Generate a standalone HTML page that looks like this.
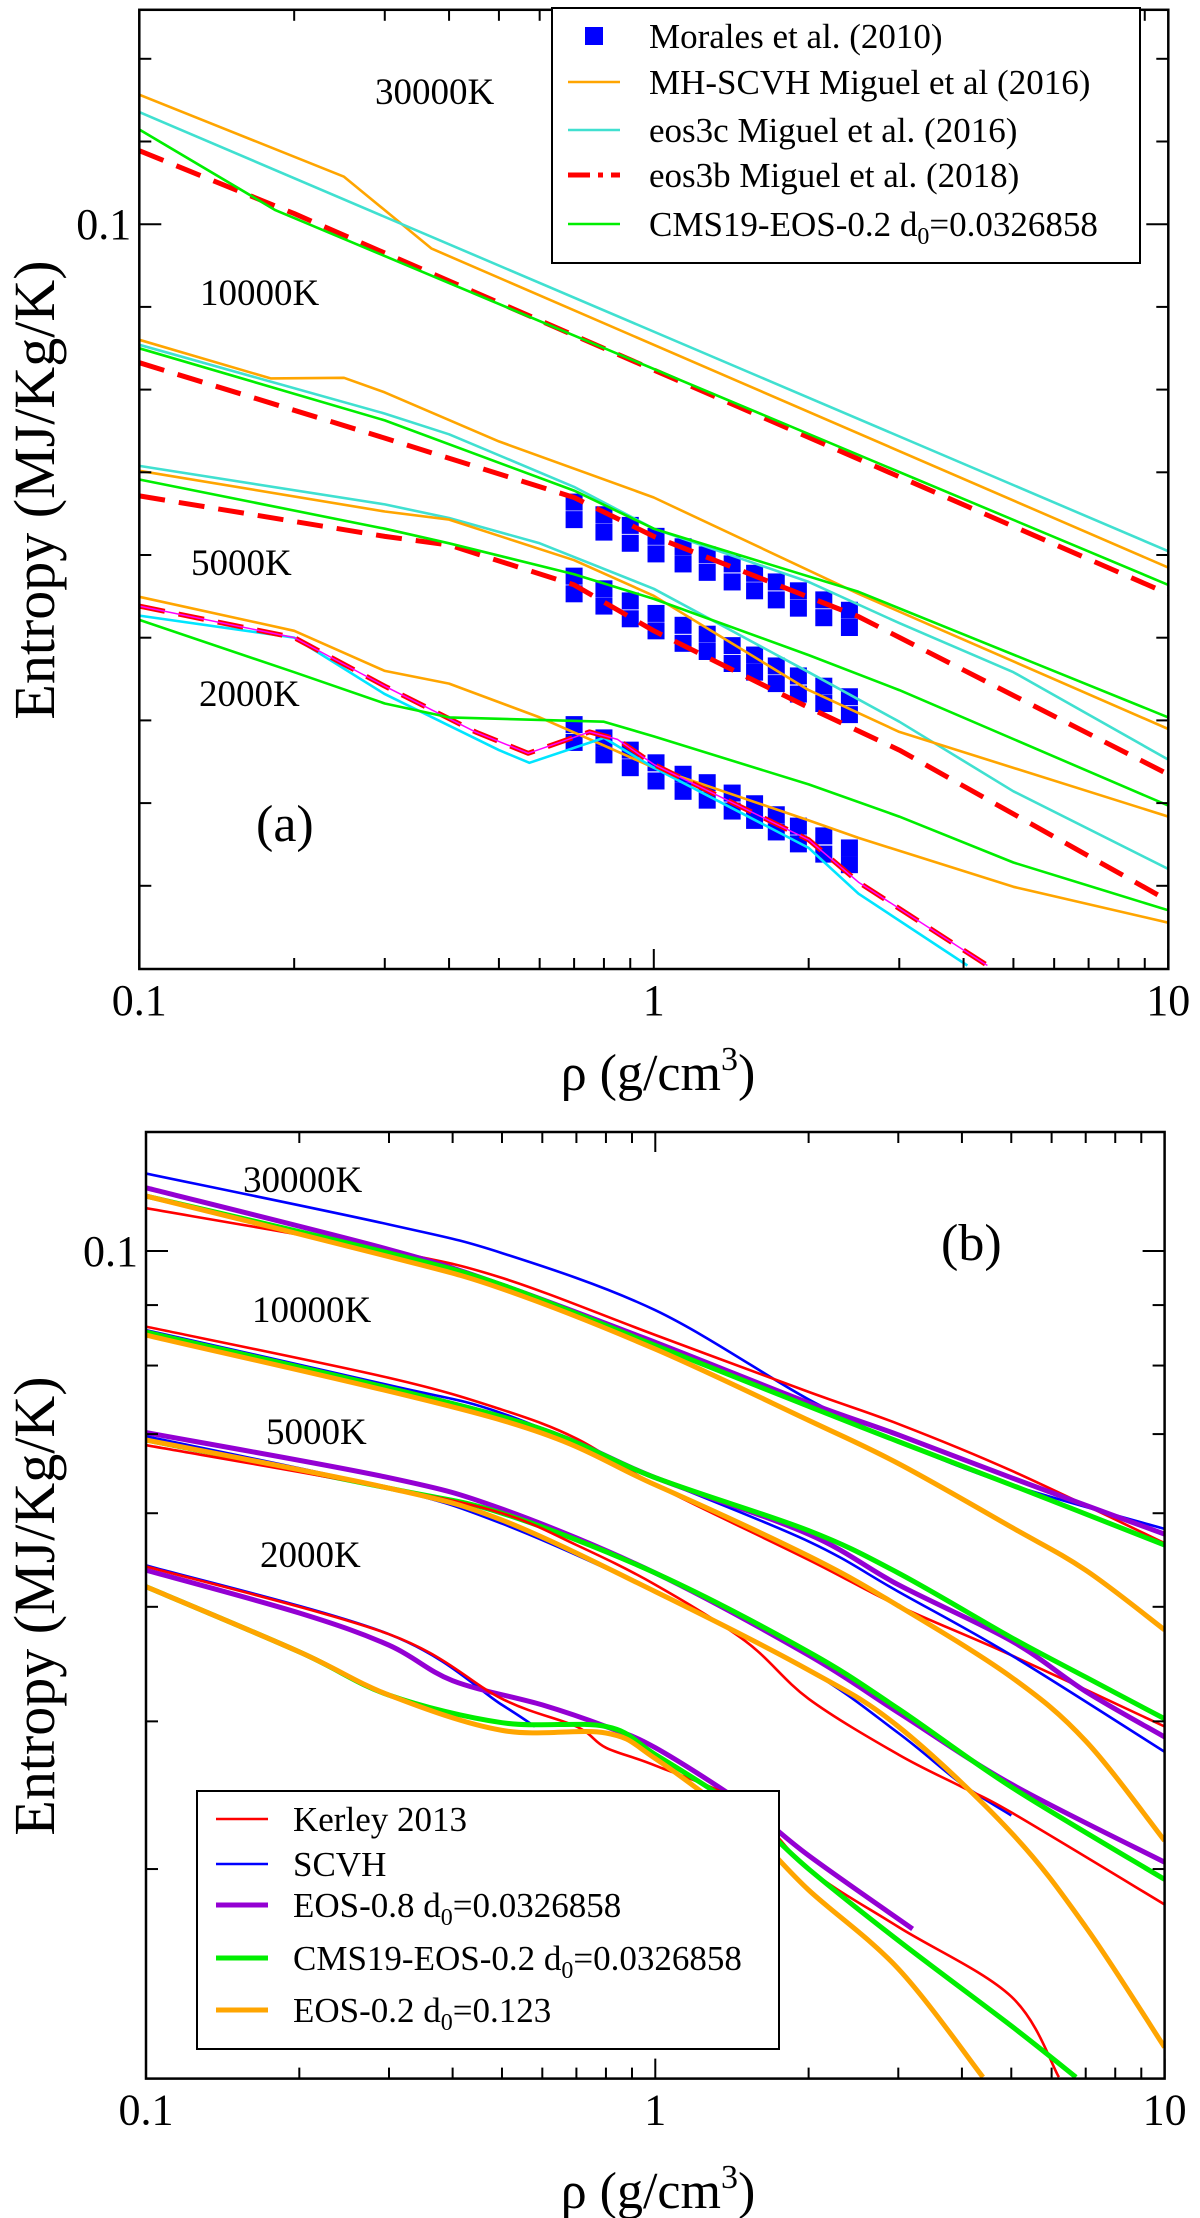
<!DOCTYPE html>
<html><head><meta charset="utf-8"><style>
html,body{margin:0;padding:0;background:#fff}
svg{display:block;font-family:"Liberation Serif",serif}
</style></head><body>
<svg id="fig" xmlns="http://www.w3.org/2000/svg" width="1200" height="2218" viewBox="0 0 1200 2218">
<defs>
<clipPath id="clipA"><rect x="139.3" y="9.8" width="1029" height="959.2"/></clipPath>
<clipPath id="clipB"><rect x="146" y="1132" width="1018.6" height="946.6"/></clipPath>
</defs>
<rect width="1200" height="2218" fill="#fff"/>
<g id="gA" clip-path="url(#clipA)"></g>
<g id="gB" clip-path="url(#clipB)"></g>
<g id="axes"></g>
<g id="texts" fill="#000">
<text x="375" y="104" font-size="37">30000K</text>
<text x="200" y="305" font-size="37">10000K</text>
<text x="191" y="575" font-size="37">5000K</text>
<text x="199" y="706" font-size="37">2000K</text>
<text x="256" y="841" font-size="52">(a)</text>
<text x="243" y="1192" font-size="37">30000K</text>
<text x="252" y="1322" font-size="37">10000K</text>
<text x="266" y="1444" font-size="37">5000K</text>
<text x="260" y="1567" font-size="37">2000K</text>
<text x="941" y="1260" font-size="52">(b)</text>
<text x="658" y="1090" font-size="52" text-anchor="middle">ρ (g/cm<tspan dy="-20" font-size="34">3</tspan><tspan dy="20">)</tspan></text>
<text x="658" y="2208" font-size="52" text-anchor="middle">ρ (g/cm<tspan dy="-20" font-size="34">3</tspan><tspan dy="20">)</tspan></text>
<text transform="translate(54,490) rotate(-90)" font-size="58" text-anchor="middle">Entropy (MJ/Kg/K)</text>
<text transform="translate(54,1606) rotate(-90)" font-size="58" text-anchor="middle">Entropy (MJ/Kg/K)</text>
</g>
<g id="legA"></g>
<g id="legB"></g>
</svg>
<script>
// ===== Panel (a) data =====
const a30_orange_rho=[0.1,0.25,0.37,10];
const a30_orange_S=[0.1436,0.1142,0.0934,0.0383];
const a30_cyan_rho=[0.1,10];
const a30_cyan_S=[0.1368,0.0401];
const a30_green_rho=[0.1,0.184,10];
const a30_green_S=[0.1303,0.1040,0.0365];
const a30_red_rho=[0.1,0.2,10];
const a30_red_S=[0.1228,0.1030,0.0356];
const a10_orange_rho=[0.1,0.18,0.25,0.3,0.5,1,2.5,10];
const a10_orange_S=[0.0724,0.0650,0.0651,0.0625,0.0545,0.0466,0.0356,0.0244];
const a10_cyan_rho=[0.1,0.3,0.4,0.7,1,2,3,5,10];
const a10_cyan_S=[0.0714,0.0589,0.0556,0.0480,0.0427,0.0368,0.0328,0.0286,0.0224];
const a10_green_rho=[0.1,0.3,0.7,1,2.5,10];
const a10_green_S=[0.0707,0.0578,0.0475,0.0427,0.0358,0.0252];
const a10_red_rho=[0.1,0.3,0.7,1,2.5,10];
const a10_red_S=[0.0679,0.0550,0.0466,0.0418,0.0334,0.0215];
const a5_cyan_rho=[0.1,0.3,0.4,0.6,1,2,3,5,10];
const a5_cyan_S=[0.0509,0.0457,0.0440,0.0410,0.0361,0.0286,0.0249,0.0205,0.0165];
const a5_orange_rho=[0.1,0.3,0.4,0.7,1,2,3,10];
const a5_orange_S=[0.0502,0.0448,0.0438,0.0391,0.0354,0.0272,0.0242,0.0191];
const a5_green_rho=[0.1,0.3,0.4,0.7,1,2,3,10];
const a5_green_S=[0.0490,0.0427,0.0410,0.0376,0.0351,0.0300,0.0272,0.0197];
const a5_red_rho=[0.1,0.3,0.4,0.7,1,2,3,10];
const a5_red_S=[0.0468,0.0418,0.0408,0.0365,0.0321,0.0259,0.0230,0.0151];
const a2_orange_rho=[0.1,0.2,0.3,0.4,0.6,0.8,1,2,2.5,5,10];
const a2_orange_S=[0.0353,0.0321,0.0287,0.0277,0.0252,0.0233,0.0219,0.0189,0.0180,0.0157,0.0142];
const a2_cyan_rho=[0.1,0.2,0.3,0.5,0.573,0.8,1,2,2.5,4.07];
const a2_cyan_S=[0.0335,0.0315,0.0269,0.0230,0.0222,0.0238,0.0219,0.0175,0.0154,0.0126];
const a2_red_rho=[0.1,0.2,0.3,0.45,0.57,0.75,0.85,1,2,2.5,4.45];
const a2_red_S=[0.0344,0.0315,0.0275,0.0242,0.0228,0.0242,0.0237,0.0221,0.0179,0.0159,0.0126];
const a2_green_rho=[0.1,0.2,0.3,0.4,0.8,1,2,3,5,10];
const a2_green_S=[0.0331,0.0286,0.0262,0.0252,0.0249,0.0239,0.0209,0.0191,0.0168,0.0147];
const morales_rho=[0.7,0.8,0.9,1.01,1.14,1.27,1.42,1.57,1.73,1.91,2.14,2.4];
const morales10_S=[0.0460,0.0444,0.0431,0.0418,0.0406,0.0397,0.0387,0.0377,0.0368,0.0359,0.0350,0.0340];
const morales10_Slow=[0.0438,0.0423,0.0410,0.0398,0.0387,0.0378,0.0368,0.0359,0.0350,0.0342,0.0333,0.0324];
const morales5_S=[0.0374,0.0361,0.0349,0.0337,0.0326,0.0318,0.0308,0.0300,0.0291,0.0283,0.0275,0.0267];
const morales5_Slow=[0.0356,0.0344,0.0332,0.0321,0.0310,0.0303,0.0293,0.0286,0.0277,0.0269,0.0262,0.0254];
const morales2_S=[0.0247,0.0238,0.0230,0.0222,0.0215,0.0210,0.0204,0.0198,0.0192,0.0186,0.0181,0.0175];
const morales2_Slow=[0.0235,0.0227,0.0219,0.0211,0.0205,0.0200,0.0194,0.0189,0.0183,0.0177,0.0172,0.0167];

// ===== Panel (b) data =====
const b30_blue_rho=[0.1,0.3,0.5,1,2,3,5,10];
const b30_blue_S=[0.1163,0.1053,0.0996,0.0891,0.0749,0.0690,0.0634,0.0582];
const b30_red_rho=[0.1,0.3,0.5,1,2,3,5,10];
const b30_red_S=[0.1087,0.1000,0.0949,0.0849,0.0760,0.0714,0.0652,0.0566];
const b30_purple_rho=[0.1,0.3,0.5,1,2,3,5,10];
const b30_purple_S=[0.1131,0.1003,0.0936,0.0837,0.0744,0.0699,0.0643,0.0576];
const b30_green_rho=[0.1,0.3,0.5,1,2,3,5,10];
const b30_green_S=[0.1113,0.0996,0.0936,0.0832,0.0739,0.0690,0.0634,0.0564];
const b30_orange_rho=[0.1,0.3,0.5,1,2,3,5,7,10];
const b30_orange_S=[0.1113,0.0989,0.0929,0.0826,0.0719,0.0661,0.0584,0.0537,0.0478];
const b10_red_rho=[0.1,0.3,0.5,0.7,1,2,3,5,10];
const b10_red_S=[0.0863,0.0781,0.0734,0.0694,0.0634,0.0548,0.0501,0.0455,0.0396];
const b10_blue_rho=[0.1,0.3,0.5,1,2,3,5,10];
const b10_blue_S=[0.0857,0.0770,0.0729,0.0643,0.0568,0.0515,0.0455,0.0377];
const b10_purple_rho=[0.1,0.5,1,2,3,5,7,10];
const b10_purple_S=[0.0854,0.0724,0.0643,0.0576,0.0522,0.0468,0.0424,0.0388];
const b10_green_rho=[0.1,0.5,1,2,3,5,7,10];
const b10_green_S=[0.0854,0.0724,0.0643,0.0580,0.0534,0.0471,0.0436,0.0402];
const b10_orange_rho=[0.1,0.5,1,2,3,5,7,10];
const b10_orange_S=[0.0849,0.0719,0.0634,0.0552,0.0501,0.0436,0.0385,0.0317];
const b5_purple_rho=[0.1,0.3,0.5,1,2,3,5,10];
const b5_purple_S=[0.0702,0.0643,0.0605,0.0534,0.0455,0.0407,0.0354,0.0304];
const b5_blue_rho=[0.1,0.3,0.5,1,2,3,4,5];
const b5_blue_S=[0.0697,0.0630,0.0588,0.0515,0.0442,0.0391,0.0354,0.0333];
const b5_red_rho=[0.1,0.3,0.5,0.7,1,1.5,2,3,4,5,10];
const b5_red_S=[0.0685,0.0630,0.0600,0.0564,0.0522,0.0468,0.0418,0.0375,0.0352,0.0335,0.0280];
const b5_green_rho=[0.1,0.3,0.5,1,2,3,5,10];
const b5_green_S=[0.0692,0.0630,0.0600,0.0534,0.0458,0.0410,0.0352,0.0294];
const b5_orange_rho=[0.1,0.3,0.5,1,2,3,5,7,10];
const b5_orange_S=[0.0692,0.0630,0.0592,0.0515,0.0442,0.0396,0.0322,0.0268,0.0212];
const b2_blue_rho=[0.1,0.3,0.5,0.58];
const b2_blue_S=[0.0542,0.0474,0.0413,0.0396];
const b2_purple_rho=[0.1,0.2,0.3,0.4,0.6,0.8,1,1.5,2,3.2];
const b2_purple_S=[0.0537,0.0494,0.0464,0.0433,0.0413,0.0396,0.0380,0.0340,0.0308,0.0267];
const b2_red_rho=[0.1,0.3,0.5,0.7,0.8,1,1.5,2,3,5,6.2];
const b2_red_S=[0.0541,0.0474,0.0418,0.0396,0.0380,0.0367,0.0340,0.0300,0.0268,0.0234,0.0200];
const b2_green_rho=[0.1,0.2,0.3,0.5,0.8,1,1.5,2,3,5,6.7];
const b2_green_S=[0.0520,0.0458,0.0421,0.0399,0.0396,0.0375,0.0335,0.0300,0.0261,0.0221,0.0200];
const b2_orange_rho=[0.1,0.2,0.3,0.5,0.8,1,1.5,2,3,4.4];
const b2_orange_S=[0.0520,0.0458,0.0421,0.0393,0.0391,0.0372,0.0326,0.0288,0.0247,0.0200];

// tick values
const xMajorTicks=[0.1,1,10];
const xMajorLabels=["0.1","1","10"];
const yTickLabelA=["0.1"];
const yTicksB=[0.1,0.09,0.08,0.07,0.06,0.05,0.04,0.03];

const NS="http://www.w3.org/2000/svg";
const PA={x0:139.3,xdec:514.5,yref:224.2,ydec:824,top:9.8,bot:969,right:1168.3};
const PB={x0:146,xdec:509.3,yref:1251,ydec:1182,top:1132,bot:2078.6,right:1164.6};
function X(p,r){return p.x0+p.xdec*Math.log10(r/0.1);}
function Y(p,s){return p.yref+p.ydec*Math.log10(0.1/s);}
function mk(tag,attrs,parent){const e=document.createElementNS(NS,tag);for(const k in attrs)e.setAttribute(k,attrs[k]);parent.appendChild(e);return e;}
function line(p,g,rho,S,color,w,dash,name,smooth){
  const pts=rho.map((r,i)=>[X(p,r),Y(p,S[i])]);
  let d="M"+pts[0][0].toFixed(1)+","+pts[0][1].toFixed(1);
  for(let i=1;i<pts.length;i++){
    if(smooth){
      const p0=pts[Math.max(0,i-2)],p1=pts[i-1],p2=pts[i],p3=pts[Math.min(pts.length-1,i+1)];
      const c1=[p1[0]+(p2[0]-p0[0])/6,p1[1]+(p2[1]-p0[1])/6];
      const c2=[p2[0]-(p3[0]-p1[0])/6,p2[1]-(p3[1]-p1[1])/6];
      d+="C"+c1[0].toFixed(1)+","+c1[1].toFixed(1)+" "+c2[0].toFixed(1)+","+c2[1].toFixed(1)+" "+p2[0].toFixed(1)+","+p2[1].toFixed(1);
    } else d+="L"+pts[i][0].toFixed(1)+","+pts[i][1].toFixed(1);
  }
  const e=mk("path",{d:d,fill:"none",stroke:color,"stroke-width":w,"stroke-linejoin":"round","stroke-linecap":"butt"},g);
  if(dash)e.setAttribute("stroke-dasharray",dash);
  
  
}
const gA=document.getElementById("gA"),gB=document.getElementById("gB");
const OR="#ffa500",CY="#40e0d0",CY2="#00e5ff",GR="#00ee00",RD="#ff0000",BL="#0000ff",PU="#9400d3";
// panel a
const mq=[[morales10_S,morales10_Slow],[morales5_S,morales5_Slow],[morales2_S,morales2_Slow]];
mq.forEach((pair,bi)=>{pair.forEach(arr=>{for(let i=0;i<morales_rho.length;i++){
  const r=mk("rect",{x:X(PA,morales_rho[i])-8.5,y:Y(PA,arr[i])-8.5,width:17,height:17,fill:BL},gA);
  
  
}});});
line(PA,gA,a30_orange_rho,a30_orange_S,OR,2.6,null,"mh-scvh-30000k");
line(PA,gA,a30_cyan_rho,a30_cyan_S,CY,2.6,null,"eos3c-30000k");
line(PA,gA,a30_red_rho,a30_red_S,RD,5,"26,14","eos3b-30000k");
line(PA,gA,a30_green_rho,a30_green_S,GR,2.6,null,"cms19-30000k");
line(PA,gA,a10_orange_rho,a10_orange_S,OR,2.6,null,"mh-scvh-10000k");
line(PA,gA,a10_cyan_rho,a10_cyan_S,CY,2.6,null,"eos3c-10000k");
line(PA,gA,a10_red_rho,a10_red_S,RD,5,"26,14","eos3b-10000k");
line(PA,gA,a10_green_rho,a10_green_S,GR,2.6,null,"cms19-10000k");
line(PA,gA,a5_cyan_rho,a5_cyan_S,CY,2.6,null,"eos3c-5000k");
line(PA,gA,a5_orange_rho,a5_orange_S,OR,2.6,null,"mh-scvh-5000k");
line(PA,gA,a5_red_rho,a5_red_S,RD,5,"26,14","eos3b-5000k");
line(PA,gA,a5_green_rho,a5_green_S,GR,2.6,null,"cms19-5000k");
line(PA,gA,a2_orange_rho,a2_orange_S,OR,2.6,null,"mh-scvh-2000k");
line(PA,gA,a2_cyan_rho,a2_cyan_S,CY2,2.6,null,"eos3c-2000k");
line(PA,gA,a2_red_rho,a2_red_S,RD,5,"26,14","eos3b-2000k");
line(PA,gA,a2_red_rho,a2_red_S,"#ff00ff",1.5,null,"eos3b-2000k-inner");
line(PA,gA,a2_green_rho,a2_green_S,GR,2.6,null,"cms19-2000k");
// panel b
[[b30_blue_rho,b30_blue_S,BL,2.6,"scvh-30000k"],[b30_red_rho,b30_red_S,RD,2.6,"kerley-30000k"],[b30_purple_rho,b30_purple_S,PU,5,"eos08-30000k"],[b30_green_rho,b30_green_S,GR,5,"cms19-30000k-b"],[b30_orange_rho,b30_orange_S,OR,5,"eos02-30000k"],
 [b10_red_rho,b10_red_S,RD,2.6,"kerley-10000k"],[b10_blue_rho,b10_blue_S,BL,2.6,"scvh-10000k"],[b10_purple_rho,b10_purple_S,PU,5,"eos08-10000k"],[b10_green_rho,b10_green_S,GR,5,"cms19-10000k-b"],[b10_orange_rho,b10_orange_S,OR,5,"eos02-10000k"],
 [b5_purple_rho,b5_purple_S,PU,5,"eos08-5000k"],[b5_green_rho,b5_green_S,GR,5,"cms19-5000k-b"],[b5_blue_rho,b5_blue_S,BL,2.6,"scvh-5000k"],[b5_red_rho,b5_red_S,RD,2.6,"kerley-5000k"],[b5_orange_rho,b5_orange_S,OR,5,"eos02-5000k"],
 [b2_blue_rho,b2_blue_S,BL,2.6,"scvh-2000k"],[b2_purple_rho,b2_purple_S,PU,5,"eos08-2000k"],[b2_red_rho,b2_red_S,RD,2.6,"kerley-2000k"],[b2_green_rho,b2_green_S,GR,5,"cms19-2000k-b"],[b2_orange_rho,b2_orange_S,OR,5,"eos02-2000k"]
].forEach(s=>line(PB,gB,s[0],s[1],s[2],s[3],null,s[4],true));

// axes
const ax=document.getElementById("axes");
function frame(p,tag){
  const r=mk("rect",{x:p.x0,y:p.top,width:p.right-p.x0,height:p.bot-p.top,fill:"none",stroke:"#000","stroke-width":2.5},ax);
  
  
  for(let dec=0.1;dec<10;dec*=10){for(let m=1;m<10;m++){const v=dec*m;const x=X(p,v);const L=(m==1)?20:11;
    mk("line",{x1:x,y1:p.bot,x2:x,y2:p.bot-L,stroke:"#000","stroke-width":2},ax);
    mk("line",{x1:x,y1:p.top,x2:x,y2:p.top+L,stroke:"#000","stroke-width":2},ax);}}
  mk("line",{x1:X(p,10),y1:p.bot,x2:X(p,10),y2:p.bot-20,stroke:"#000","stroke-width":2},ax);
  xMajorTicks.forEach((v,i)=>{const t=mk("text",{x:X(p,v),y:p.bot+46,"font-size":44,"text-anchor":"middle"},ax);t.textContent=xMajorLabels[i];
    
    });
}
frame(PA,"a");frame(PB,"b");
// panel a y ticks (uniform spacing as in reference)
for(let k=-2;k<=9;k++){const y=PA.yref+k*82.7;if(y<PA.top+2||y>PA.bot-2)continue;const L=(k==0)?22:12;
  mk("line",{x1:PA.x0,y1:y,x2:PA.x0+L,y2:y,stroke:"#000","stroke-width":2},ax);
  mk("line",{x1:PA.right,y1:y,x2:PA.right-L,y2:y,stroke:"#000","stroke-width":2},ax);}
let tA=mk("text",{x:PA.x0-8,y:PA.yref+15,"font-size":44,"text-anchor":"end"},ax);tA.textContent=yTickLabelA[0];


yTicksB.forEach((v,i)=>{const y=Y(PB,v);const L=(i==0)?22:12;
  mk("line",{x1:PB.x0,y1:y,x2:PB.x0+L,y2:y,stroke:"#000","stroke-width":2},ax);
  mk("line",{x1:PB.right,y1:y,x2:PB.right-L,y2:y,stroke:"#000","stroke-width":2},ax);});
let tB=mk("text",{x:PB.x0-8,y:Y(PB,0.1)+15,"font-size":44,"text-anchor":"end"},ax);tB.textContent="0.1";



// legends
function legend(g,box,items,sx,tx){
  mk("rect",{x:box[0],y:box[1],width:box[2],height:box[3],fill:"#fff",stroke:"#000","stroke-width":2},g);
  items.forEach(it=>{
    if(it.sq){mk("rect",{x:sx+17,y:it.y-9,width:18,height:18,fill:it.c},g);}
    else{mk("line",{x1:sx,y1:it.y,x2:sx+52,y2:it.y,stroke:it.c,"stroke-width":it.w,"stroke-dasharray":it.d||"none"},g);}
    const t=mk("text",{x:tx,y:it.y+12,"font-size":35},g);t.innerHTML=it.t;
    
    
  });
}
legend(document.getElementById("legA"),[552,8,588,255],[
 {y:36,c:BL,sq:1,t:"Morales et al. (2010)"},
 {y:82,c:OR,w:2.6,t:"MH-SCVH Miguel et al (2016)"},
 {y:130,c:CY,w:2.6,t:"eos3c Miguel et al. (2016)"},
 {y:175,c:RD,w:5,d:"22,8,5,8",t:"eos3b Miguel et al. (2018)"},
 {y:224,c:GR,w:2.6,t:'CMS19-EOS-0.2 d<tspan dy="8" font-size="24">0</tspan><tspan dy="-8">=0.0326858</tspan>'}
],568,649);
legend(document.getElementById("legB"),[197,1791,582,258],[
 {y:1819,c:RD,w:2.6,t:"Kerley 2013"},
 {y:1864,c:BL,w:2.6,t:"SCVH"},
 {y:1905,c:PU,w:5,t:'EOS-0.8 d<tspan dy="8" font-size="24">0</tspan><tspan dy="-8">=0.0326858</tspan>'},
 {y:1958,c:GR,w:5,t:'CMS19-EOS-0.2 d<tspan dy="8" font-size="24">0</tspan><tspan dy="-8">=0.0326858</tspan>'},
 {y:2010,c:OR,w:5,t:'EOS-0.2 d<tspan dy="8" font-size="24">0</tspan><tspan dy="-8">=0.123</tspan>'}
],216,293);
</script>
</body></html>
